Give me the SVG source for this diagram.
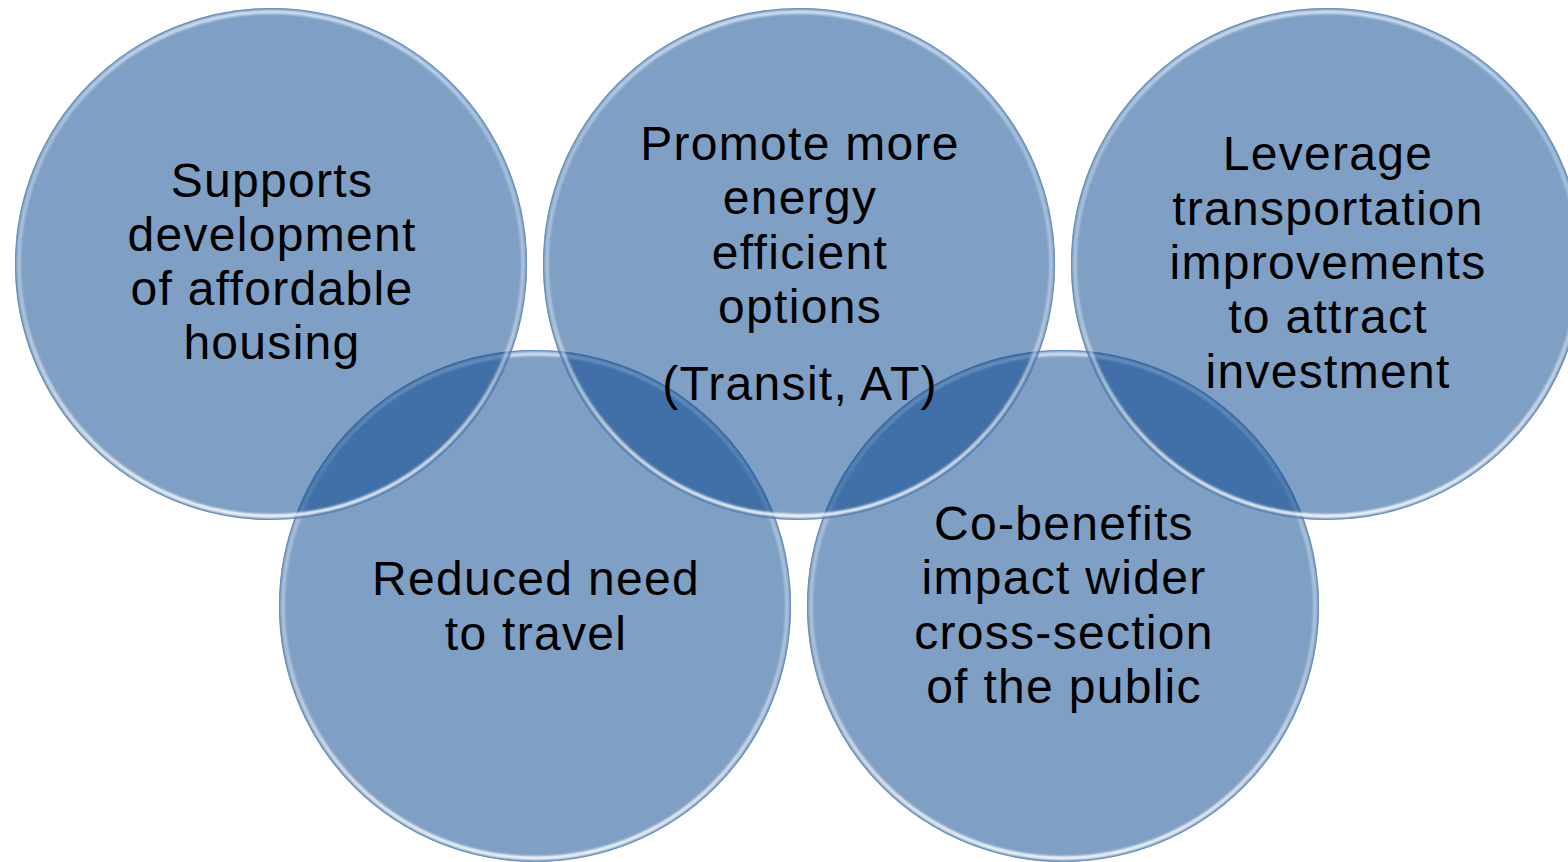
<svg xmlns="http://www.w3.org/2000/svg" width="1568" height="862" viewBox="0 0 1568 862">
  <style>
    .disc { fill: #04438B; fill-opacity: 0.51; }
    .edge { fill: none; stroke: #5F88B8; stroke-width: 1.2; stroke-opacity: 0.8; }
    .rim { fill: none; stroke: url(#rimGrad); stroke-width: 3.5; filter: url(#soft); }
    .lbl { font-family: "Liberation Sans", Arial, sans-serif; font-size: 48px; letter-spacing: 1.3px; fill: #000000; text-anchor: middle; }
  </style>
  <defs>
    <linearGradient id="rimGrad" x1="0" y1="0" x2="0" y2="1">
      <stop offset="0" stop-color="#E6F4FF" stop-opacity="0.8"/>
      <stop offset="0.25" stop-color="#E6F4FF" stop-opacity="0.4"/>
      <stop offset="0.6" stop-color="#FFFFFF" stop-opacity="0.4"/>
      <stop offset="1" stop-color="#FFFFFF" stop-opacity="0.95"/>
    </linearGradient>
    <filter id="soft" x="-5%" y="-5%" width="110%" height="110%">
      <feGaussianBlur stdDeviation="0.8"/>
    </filter>
  </defs>
  <rect width="1568" height="862" fill="#FFFFFF"/>

  <g id="n4">
    <circle class="disc" cx="535" cy="606" r="256"/>
    <circle class="rim" cx="535" cy="606" r="252"/>
    <circle class="edge" cx="535" cy="606" r="255.5"/>
    <text class="lbl" x="536" y="595">Reduced need</text>
    <text class="lbl" x="536" y="650">to travel</text>
  </g>

  <g id="n5">
    <circle class="disc" cx="1063" cy="606" r="256"/>
    <circle class="rim" cx="1063" cy="606" r="252"/>
    <circle class="edge" cx="1063" cy="606" r="255.5"/>
    <text class="lbl" x="1064" y="540">Co-benefits</text>
    <text class="lbl" x="1064" y="594">impact wider</text>
    <text class="lbl" x="1064" y="649">cross-section</text>
    <text class="lbl" x="1064" y="703">of the public</text>
  </g>

  <g id="n1">
    <circle class="disc" cx="271" cy="264" r="256"/>
    <circle class="rim" cx="271" cy="264" r="252"/>
    <circle class="edge" cx="271" cy="264" r="255.5"/>
    <text class="lbl" x="272" y="197">Supports</text>
    <text class="lbl" x="272" y="251">development</text>
    <text class="lbl" x="272" y="305">of affordable</text>
    <text class="lbl" x="272" y="359">housing</text>
  </g>

  <g id="n3">
    <circle class="disc" cx="1327" cy="264" r="256"/>
    <circle class="rim" cx="1327" cy="264" r="252"/>
    <circle class="edge" cx="1327" cy="264" r="255.5"/>
    <text class="lbl" x="1328" y="170">Leverage</text>
    <text class="lbl" x="1328" y="225">transportation</text>
    <text class="lbl" x="1328" y="279">improvements</text>
    <text class="lbl" x="1328" y="333">to attract</text>
    <text class="lbl" x="1328" y="388">investment</text>
  </g>

  <g id="n2">
    <circle class="disc" cx="799" cy="264" r="256"/>
    <circle class="rim" cx="799" cy="264" r="252"/>
    <circle class="edge" cx="799" cy="264" r="255.5"/>
    <text class="lbl" x="800" y="160">Promote more</text>
    <text class="lbl" x="800" y="214">energy</text>
    <text class="lbl" x="800" y="269">efficient</text>
    <text class="lbl" x="800" y="323">options</text>
    <text class="lbl" x="800" y="400">(Transit, AT)</text>
  </g>

  <g id="connectors"></g>
</svg>
